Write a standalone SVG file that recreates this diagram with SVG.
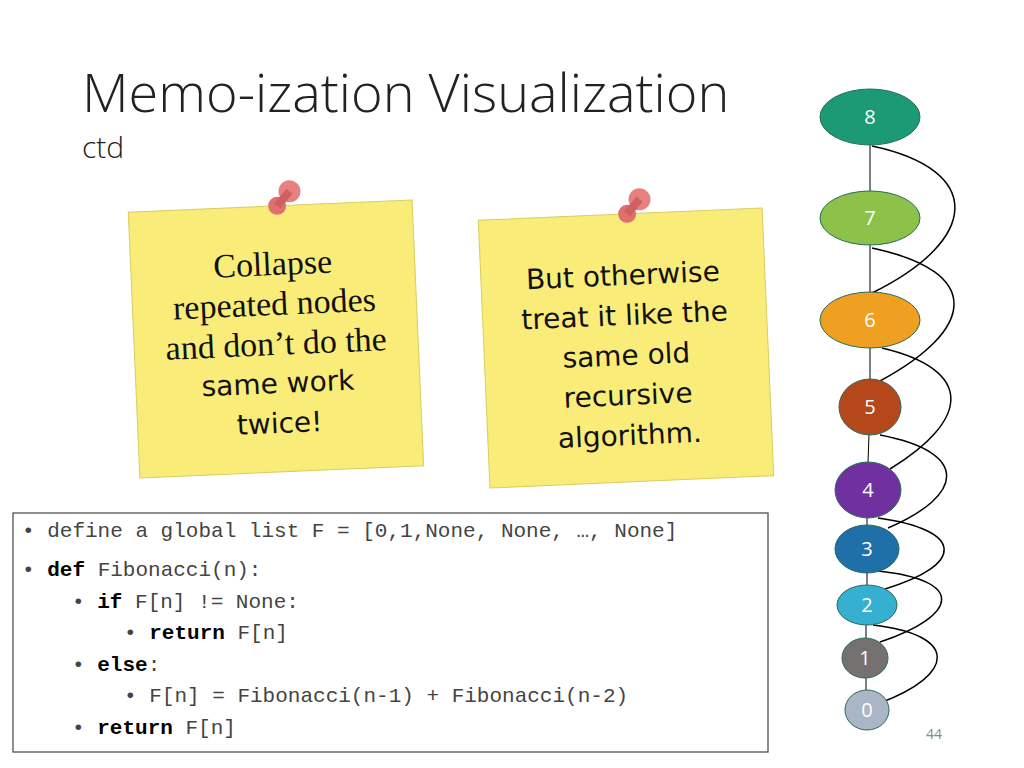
<svg xmlns="http://www.w3.org/2000/svg" width="1024" height="768" viewBox="0 0 1024 768">
<style>
.t{font-family:"Open Sans","Liberation Sans",sans-serif;fill:#222}
.n{font-family:"Open Sans","Liberation Sans",sans-serif;font-size:20px;fill:#fff;text-anchor:middle}
.e{stroke:#2a6a5a;stroke-width:1}
.c{fill:none;stroke:#000;stroke-width:1.5}
.v{stroke:#000;stroke-width:1}
.code{font-family:"Liberation Mono",monospace;font-size:21px;fill:#444}
.kw{font-weight:bold;fill:#000}
.note{fill:#faec78;stroke:#d8cc60;stroke-width:1}
.s1{font-family:"Liberation Serif",serif;font-size:34px;fill:#111;text-anchor:middle}
.s2{font-family:"DejaVu Sans",sans-serif;font-size:28px;fill:#111;text-anchor:middle}
</style>
<rect width="1024" height="768" fill="#fff"/>
<text class="t" x="82" y="112" font-size="54" font-weight="300">Memo-ization Visualization</text>
<text class="t" x="82" y="158" font-size="30" font-weight="300">ctd</text>

<g id="note1" transform="rotate(-2.5 276 340)">
<rect class="note" x="134" y="206" width="284" height="266"/>
<circle cx="283" cy="206" r="9" fill="#e07070"/><circle cx="296" cy="192" r="11" fill="#e88080"/><line x1="283" y1="206" x2="296" y2="192" stroke="#d06060" stroke-width="8"/>
<text class="s1" x="276" y="275">Collapse</text>
<text class="s1" x="276" y="315">repeated nodes</text>
<text class="s1" x="276" y="355">and don’t do the</text>
<text class="s2" x="276" y="393">same work</text>
<text class="s2" x="276" y="433">twice!</text>
</g>
<g id="note2" transform="rotate(-2.5 626 348)">
<rect class="note" x="484" y="214" width="284" height="268"/>
<circle cx="633" cy="214" r="9" fill="#e07070"/><circle cx="646" cy="200" r="11" fill="#e88080"/><line x1="633" y1="214" x2="646" y2="200" stroke="#d06060" stroke-width="8"/>
<text class="s2" x="626" y="285">But otherwise</text>
<text class="s2" x="626" y="325">treat it like the</text>
<text class="s2" x="626" y="365">same old</text>
<text class="s2" x="626" y="405">recursive</text>
<text class="s2" x="626" y="445">algorithm.</text>
</g>

<g id="code">
<rect x="13" y="513" width="755" height="239" fill="#fff" stroke="#444" stroke-width="1.2"/>
<text class="code" x="22" y="537">• define a global list F = [0,1,None, None, …, None]</text>
<text class="code" x="22" y="576">• <tspan class="kw">def</tspan> Fibonacci(n):</text>
<text class="code" x="72" y="608">• <tspan class="kw">if</tspan> F[n] != None:</text>
<text class="code" x="124" y="639">• <tspan class="kw">return</tspan> F[n]</text>
<text class="code" x="72" y="671">• <tspan class="kw">else</tspan>:</text>
<text class="code" x="124" y="702">• F[n] = Fibonacci(n-1) + Fibonacci(n-2)</text>
<text class="code" x="72" y="734">• <tspan class="kw">return</tspan> F[n]</text>
</g>

<g id="connectors">
<line class="v" x1="870" y1="145" x2="870" y2="191"/>
<line class="v" x1="870" y1="245" x2="870" y2="292"/>
<line class="v" x1="870" y1="348" x2="870" y2="379"/>
<line class="v" x1="869" y1="435" x2="868" y2="462"/>
<line class="v" x1="867" y1="518" x2="867" y2="525"/>
<line class="v" x1="867" y1="573" x2="867" y2="585"/>
<line class="v" x1="866" y1="625" x2="866" y2="638"/>
<line class="v" x1="866" y1="678" x2="866" y2="690"/>
<path class="c" d="M872 146 C985 170,980 240,872 293"/>
<path class="c" d="M872 248 C985 272,975 330,880 381"/>
<path class="c" d="M882 348 C975 370,970 420,890 469"/>
<path class="c" d="M880 435 C970 452,965 495,888 528"/>
<path class="c" d="M878 518 C965 530,965 565,885 589"/>
<path class="c" d="M878 571 C965 580,960 615,880 642"/>
<path class="c" d="M873 625 C960 635,955 675,880 703"/>
</g>

<g id="n8"><ellipse class="e" cx="870" cy="117" rx="50" ry="28" fill="#1c9a76"/><text class="n" x="870" y="124">8</text></g>
<g id="n7"><ellipse class="e" cx="870" cy="218" rx="50" ry="27" fill="#8cc24a"/><text class="n" x="870" y="225">7</text></g>
<g id="n6"><ellipse class="e" cx="870" cy="320" rx="50" ry="28" fill="#f0a020"/><text class="n" x="870" y="327">6</text></g>
<g id="n5"><ellipse class="e" cx="870" cy="407" rx="31" ry="28" fill="#b5481a"/><text class="n" x="870" y="414">5</text></g>
<g id="n4"><ellipse class="e" cx="868" cy="490" rx="33" ry="28" fill="#7030a0"/><text class="n" x="868" y="497">4</text></g>
<g id="n3"><ellipse class="e" cx="867" cy="549" rx="32" ry="24" fill="#1f6fa8"/><text class="n" x="867" y="556">3</text></g>
<g id="n2"><ellipse class="e" cx="867" cy="605" rx="30" ry="20" fill="#36b0d0"/><text class="n" x="867" y="612">2</text></g>
<g id="n1"><ellipse class="e" cx="865" cy="658" rx="23" ry="20" fill="#767171"/><text class="n" x="865" y="665">1</text></g>
<g id="n0"><ellipse class="e" cx="867" cy="710" rx="22" ry="20" fill="#aab5c5"/><text class="n" x="867" y="717">0</text></g>
<text x="934" y="739" font-family="Open Sans,sans-serif" font-size="14" fill="#888" text-anchor="middle">44</text>
</svg>
